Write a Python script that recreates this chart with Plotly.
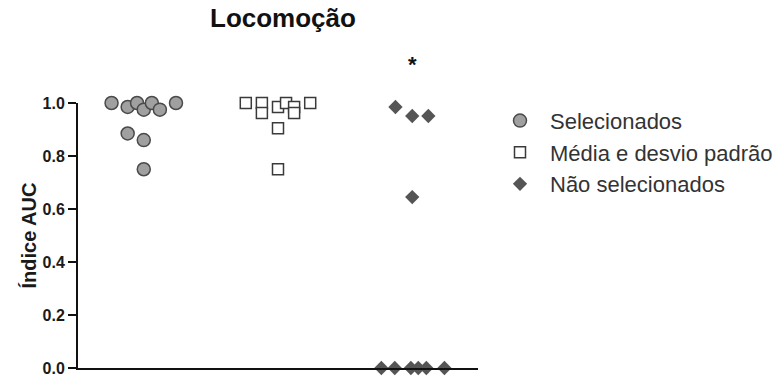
import plotly.graph_objects as go

# Group order on the x axis
groups = ["Selecionados", "Média e desvio padrão", "Não selecionados"]

# AUC index for each animal, per group
auc_selecionados = [1.0, 0.985, 1.0, 0.975, 1.0, 0.975, 1.0, 0.885, 0.86, 0.75]
auc_media_dp = [1.0, 1.0, 0.962, 0.985, 1.0, 0.985, 0.962, 1.0, 0.905, 0.75]
auc_nao_selecionados = [0.985, 0.951, 0.951, 0.645, 0.0, 0.0, 0.0, 0.0, 0.0, 0.0]

# Horizontal scatter of the points inside each column (column units)
spread_selecionados = [-0.24, -0.12, -0.05, 0.0, 0.06, 0.12, 0.24, -0.12, 0.0, 0.0]
spread_media_dp = [-0.24, -0.12, -0.12, 0.0, 0.06, 0.12, 0.12, 0.24, 0.0, 0.0]
spread_nao_selecionados = [-0.125, 0.0, 0.12, 0.0, -0.23, -0.13, -0.01, 0.045, 0.105, 0.24]

y_ticks = [0.0, 0.2, 0.4, 0.6, 0.8, 1.0]
significance_mark = "*"
significance_group = 2
significance_level = 1.147

FONT = "Liberation Sans, Arial, sans-serif"
X_RANGE = [-0.49, 2.49]

series = [
    (auc_selecionados, spread_selecionados,
     dict(symbol="circle", size=13, color="#a0a0a0",
          line=dict(color="#4a4a4a", width=1.5))),
    (auc_media_dp, spread_media_dp,
     dict(symbol="square", size=11, color="#ffffff",
          line=dict(color="#3a3a3a", width=1.5))),
    (auc_nao_selecionados, spread_nao_selecionados,
     dict(symbol="diamond", size=11, color="#555555",
          line=dict(color="#555555", width=0))),
]

fig = go.Figure()
for i, (name, (vals, spread, marker)) in enumerate(zip(groups, series)):
    fig.add_trace(go.Scatter(
        x=[i + s for s in spread],
        y=vals,
        mode="markers",
        name=name,
        marker=marker,
        cliponaxis=False,
        hoverinfo="y+name",
    ))

# significance marker above the third column (paper coords so it is not
# hidden for lying outside the y range)
fig.add_annotation(
    x=(significance_group - X_RANGE[0]) / (X_RANGE[1] - X_RANGE[0]),
    y=significance_level, xref="paper", yref="paper",
    text="<b>" + significance_mark + "</b>", showarrow=False,
    xanchor="center", yanchor="middle",
    font=dict(family=FONT, size=22, color="#111111"),
)

# chart title
fig.add_annotation(
    x=0.513, y=1.322, xref="paper", yref="paper",
    text="<b>Locomoção</b>", showarrow=False,
    xanchor="center", yanchor="middle",
    font=dict(family=FONT, size=26, color="#111111"),
)

# y-axis title
fig.add_annotation(
    x=-0.125, y=0.5, xref="paper", yref="paper",
    text="<b>Índice AUC</b>", showarrow=False, textangle=-90,
    xanchor="center", yanchor="middle",
    font=dict(family=FONT, size=20, color="#1a1a1a"),
)

fig.update_layout(
    width=773, height=381,
    margin=dict(l=78, r=295, t=103, b=13, autoexpand=False),
    paper_bgcolor="white", plot_bgcolor="white",
    showlegend=True,
    legend=dict(
        x=1.03, y=1.012, xref="paper", yref="paper",
        xanchor="left", yanchor="top",
        itemwidth=50, tracegroupgap=0,
        font=dict(family=FONT, size=22, color="#333333"),
        bgcolor="rgba(0,0,0,0)",
    ),
    xaxis=dict(
        range=X_RANGE, showgrid=False, zeroline=False,
        showline=True, linecolor="#111111", linewidth=2,
        showticklabels=False, ticks="",
    ),
    yaxis=dict(
        range=[0, 1], showgrid=False, zeroline=False,
        showline=True, linecolor="#111111", linewidth=2,
        tickvals=y_ticks, ticktext=[f"<b>{v:.1f}</b>" for v in y_ticks],
        ticks="outside", ticklen=8, tickwidth=2, tickcolor="#111111",
        tickfont=dict(family=FONT, size=16, color="#1a1a1a"),
    ),
)

fig.write_html("out.html")
